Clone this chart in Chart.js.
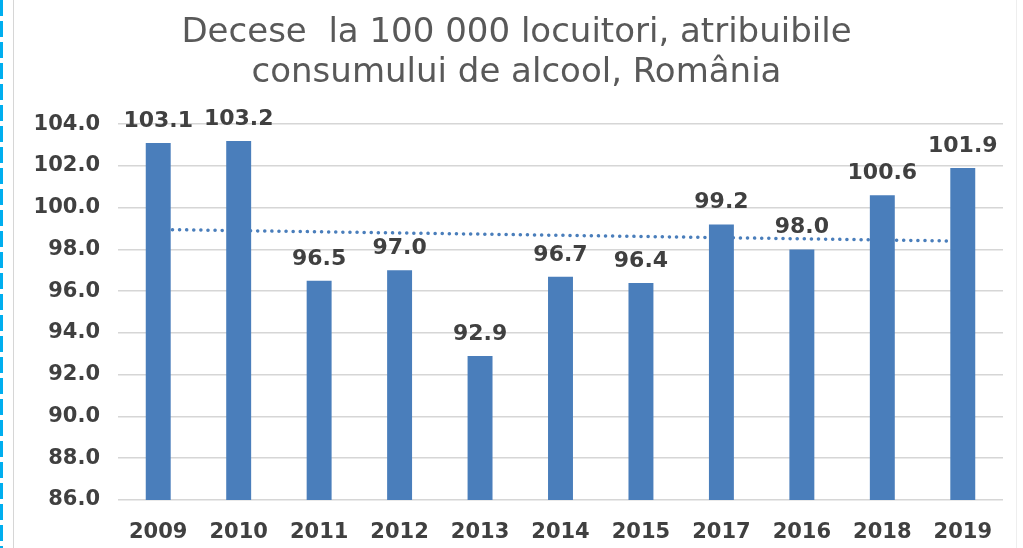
<!DOCTYPE html>
<html>
<head>
<meta charset="utf-8">
<script src="https://cdn.jsdelivr.net/npm/chart.js@4"></script>
<style>
  html, body { margin: 0; padding: 0; background: #fff; }
  #wrap { position: relative; width: 1023px; height: 548px; overflow: hidden; }
  #chart { position: absolute; left: 0; top: 0; }
  .dash { position: absolute; left: 0; top: 0; width: 3px; height: 548px;
    background: repeating-linear-gradient(to bottom, #00aeef 0 16px, transparent 16px 21px); }
  .edge { position: absolute; top: 0; width: 1px; height: 548px; background: #d6d6d6; }
</style>
</head>
<body>
<div id="wrap">
  <canvas id="chart" width="1023" height="548"></canvas>
  <div class="dash"></div>
  <div class="edge" style="left:13px"></div>
  <div class="edge" style="left:1016px;background:#eeeeee"></div>
</div>
<script>
// years are in the same order as the original chart (2017 before 2016)
const years = ["2009", "2010", "2011", "2012", "2013", "2014", "2015", "2017", "2016", "2018", "2019"];
const deaths = [103.1, 103.2, 96.5, 97.0, 92.9, 96.7, 96.4, 99.2, 98.0, 100.6, 101.9];
// linear trend line, only the two ends
const trend = [98.96, null, null, null, null, null, null, null, null, null, 98.40];
const titleLines = ["Decese  la 100 000 locuitori, atribuibile", "consumului de alcool, România"];

const barColor = "#4a7ebb";
const textColor = "#404040";

// values above the bars
const barLabels = {
  id: "barLabels",
  afterDatasetsDraw(chart) {
    const ctx = chart.ctx;
    const meta = chart.getDatasetMeta(0);
    ctx.save();
    ctx.font = "bold 22px 'DejaVu Sans'";
    ctx.fillStyle = textColor;
    ctx.textAlign = "center";
    ctx.textBaseline = "alphabetic";
    meta.data.forEach((bar, i) => {
      ctx.fillText(deaths[i].toFixed(1), bar.x, bar.y - 16);
    });
    ctx.restore();
  },
};

new Chart(document.getElementById("chart"), {
  type: "bar",
  data: {
    labels: years,
    datasets: [
      {
        type: "bar",
        data: deaths,
        backgroundColor: barColor,
        categoryPercentage: 1,
        barPercentage: 0.31,
        order: 1,
      },
      {
        type: "line",
        data: trend,
        spanGaps: true,
        borderColor: barColor,
        borderWidth: 3.5,
        borderDash: [0.1, 7],
        borderCapStyle: "round",
        pointRadius: 0,
        fill: false,
        order: 2,
      },
    ],
  },
  options: {
    responsive: false,
    animation: false,
    layout: { padding: { left: 30, right: 20, top: 0, bottom: 0 } },
    plugins: {
      legend: { display: false },
      tooltip: { enabled: false },
      title: {
        display: true,
        text: titleLines,
        color: "#595959",
        font: { family: "'DejaVu Sans'", size: 34, weight: "normal", lineHeight: 1.18 },
        padding: { top: 13, bottom: 31 },
      },
    },
    scales: {
      x: {
        grid: { display: false },
        border: { display: false },
        ticks: {
          color: textColor,
          font: { family: "'DejaVu Sans'", size: 21, weight: "bold" },
          padding: 12,
          maxRotation: 0,
        },
        afterFit(scale) { scale.height = 48; },
      },
      y: {
        min: 86,
        max: 104,
        border: { display: false },
        grid: { color: "#d6d6d6", lineWidth: 1.5, drawTicks: false },
        ticks: {
          stepSize: 2,
          color: textColor,
          font: { family: "'DejaVu Sans'", size: 21, weight: "bold" },
          padding: 18,
          callback: (v) => v.toFixed(1),
        },
        afterFit(scale) { scale.width = 88; },
      },
    },
  },
  plugins: [barLabels],
});
</script>
</body>
</html>
